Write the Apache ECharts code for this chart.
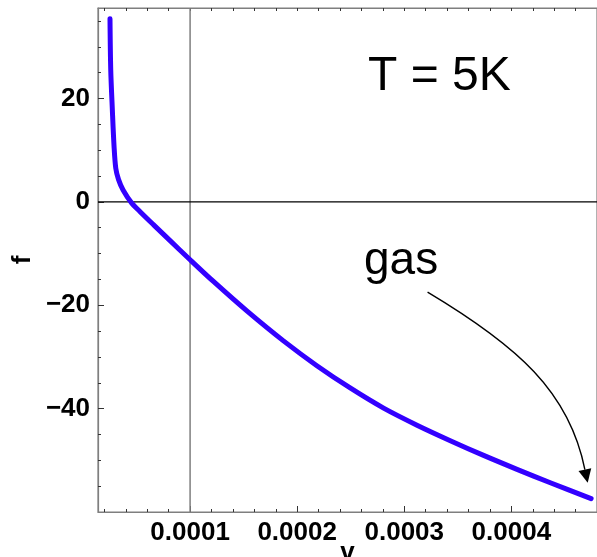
<!DOCTYPE html>
<html>
<head>
<meta charset="utf-8">
<script src="https://cdn.jsdelivr.net/npm/echarts@6/dist/echarts.min.js"></script>
<style>
html,body{margin:0;padding:0;background:#fff;}
#main{width:597px;height:557px;}
</style>
</head>
<body>
<div id="main"></div>
<script>
// ---- data ----
var vValues = [0.0000252, 0.0000259, 0.0000274, 0.0000290, 0.0000306, 0.0000332, 0.0000374, 0.0000455, 0.0000533, 0.0000657, 0.0000813, 0.0001000, 0.0001218, 0.0001530, 0.0001872, 0.0002184, 0.0002495, 0.0002807, 0.0003119, 0.0003430, 0.0003741, 0.0004053, 0.0004364, 0.0004745];
var fValues = [35.4, 25.5, 17.8, 10.7, 6.5, 4.3, 2.3, -0.25, -1.9, -4.4, -7.5, -11.2, -15.4, -21.1, -26.9, -31.7, -36.0, -39.9, -43.2, -46.2, -49.05, -51.75, -54.35, -57.4];

var xTickValues = [0.0001, 0.0002, 0.0003, 0.0004];
var xTickLabels = ['0.0001', '0.0002', '0.0003', '0.0004'];
var xMinorTicks = [0.00002, 0.00004, 0.00006, 0.00008, 0.00012, 0.00014, 0.00016, 0.00018, 0.00022, 0.00024, 0.00026, 0.00028, 0.00032, 0.00034, 0.00036, 0.00038, 0.00042, 0.00044, 0.00046];
var yTickValues = [-40, -20, 0, 20];
var yTickLabels = ['\u221240', '\u221220', '0', '20'];
var yMinorTicks = [-55, -50, -45, -35, -30, -25, -15, -10, -5, 5, 10, 15, 25, 30, 35];

var xRange = [0.000014, 0.00048];
var yRange = [-60, 37.5];
var axesOrigin = [0.0001, 0];

var title = 'T = 5K';
var gasLabel = 'gas';
// arrow: start, two bezier control points, end of shaft (data coordinates), then tip
var arrowPath = [[0.00032178, -17.45], [0.00040561, -27.83], [0.00045421, -36.71], [0.00046869, -51.79]];
var arrowTip = [0.00047131, -54.36];

var seriesData = vValues.map(function (v, i) { return [v, fValues[i]]; });

var FONT = '"Liberation Sans", Arial, Helvetica, sans-serif';
var frameColor = '#7f7f7f';

function labelFor(values, labels) {
  return function (val) {
    for (var i = 0; i < values.length; i++) {
      if (Math.abs(values[i] - val) <= 1e-9 * Math.max(1e-6, Math.abs(values[i]))) return labels[i];
    }
    return '';
  };
}

var chart = echarts.init(document.getElementById('main'), null, {renderer: 'canvas'});
var topTicks = xMinorTicks.concat(xTickValues).sort(function (a, b) { return a - b; });

var option = {
  backgroundColor: '#ffffff',
  animation: false,
  grid: {left: 98, right: 0, top: 8, bottom: 45, containLabel: false, outerBoundsMode: 'none',
    show: true, borderColor: frameColor, borderWidth: 1.2},
  xAxis: [
    {
      type: 'value', min: xRange[0], max: xRange[1], position: 'bottom',
      name: 'v', nameLocation: 'middle', nameGap: 28, nameMoveOverlap: false,
      nameTextStyle: {fontFamily: FONT, fontSize: 26, fontWeight: 'bold', color: '#000', verticalAlign: 'top'},
      axisLine: {show: true, onZero: false, lineStyle: {color: frameColor, width: 1.2}},
      axisTick: {show: true, inside: true, length: 6, customValues: xTickValues, lineStyle: {color: '#333', width: 1}},
      axisLabel: {show: true, customValues: xTickValues, margin: 8, fontFamily: FONT, fontSize: 26, fontWeight: 'bold', color: '#000',
        formatter: labelFor(xTickValues, xTickLabels)},
      splitLine: {show: false}
    },
    {
      type: 'value', min: xRange[0], max: xRange[1], position: 'top',
      axisLine: {show: true, onZero: false, lineStyle: {color: frameColor, width: 1.2}},
      axisTick: {show: true, inside: true, length: 3, customValues: topTicks, lineStyle: {color: '#333', width: 1}},
      axisLabel: {show: false},
      splitLine: {show: false}
    },
    {
      type: 'value', min: xRange[0], max: xRange[1], position: 'bottom',
      axisLine: {show: false, onZero: false},
      axisTick: {show: true, inside: true, length: 3, customValues: xMinorTicks, lineStyle: {color: '#333', width: 1}},
      axisLabel: {show: false},
      splitLine: {show: false}
    }
  ],
  yAxis: [
    {
      type: 'value', min: yRange[0], max: yRange[1], position: 'left',
      name: 'f', nameLocation: 'middle', nameGap: 62, nameRotate: 90, nameMoveOverlap: false,
      nameTextStyle: {fontFamily: FONT, fontSize: 26, fontWeight: 'bold', color: '#000'},
      axisLine: {show: true, onZero: false, lineStyle: {color: frameColor, width: 1.2}},
      axisTick: {show: true, inside: true, length: 6, customValues: yTickValues, lineStyle: {color: '#333', width: 1}},
      axisLabel: {show: true, customValues: yTickValues, margin: 8, fontFamily: FONT, fontSize: 26, fontWeight: 'bold', color: '#000',
        formatter: labelFor(yTickValues, yTickLabels)},
      splitLine: {show: false}
    },
    {
      type: 'value', min: yRange[0], max: yRange[1], position: 'left',
      axisLine: {show: false, onZero: false},
      axisTick: {show: true, inside: true, length: 3, customValues: yMinorTicks, lineStyle: {color: '#333', width: 1}},
      axisLabel: {show: false},
      splitLine: {show: false}
    }
  ],
  series: [
    {
      name: 'vAxisLine', type: 'line', xAxisIndex: 0, yAxisIndex: 0, z: 1, silent: true,
      data: [[axesOrigin[0], yRange[0]], [axesOrigin[0], yRange[1]]],
      symbol: 'none', lineStyle: {color: '#7f7f7f', width: 1.5}
    },
    {
      name: 'hAxisLine', type: 'line', xAxisIndex: 0, yAxisIndex: 0, z: 1, silent: true,
      data: [[xRange[0], axesOrigin[1]], [xRange[1], axesOrigin[1]]],
      symbol: 'none', lineStyle: {color: '#000', width: 1.1}
    },
    {
      name: 'f', type: 'line', data: seriesData, xAxisIndex: 0, yAxisIndex: 0, z: 3,
      showSymbol: false, symbol: 'none', smooth: 0.3,
      lineStyle: {color: '#3300ff', width: 5, cap: 'round', join: 'round'}
    }
  ]
};
chart.setOption(option);

// annotations positioned through the chart's own coordinate conversion
function px(p) { return chart.convertToPixel({gridIndex: 0}, p); }
var a0 = px(arrowPath[0]), a1 = px(arrowPath[1]), a2 = px(arrowPath[2]), a3 = px(arrowPath[3]);
var tip = px(arrowTip);
var dx = tip[0] - a3[0], dy = tip[1] - a3[1];
var len = Math.sqrt(dx * dx + dy * dy) || 1;
var nx = -dy / len, ny = dx / len, hw = 6.5;

chart.setOption({
  graphic: [
    {type: 'text', left: 368, top: 53, z: 10, style: {text: title, fontFamily: FONT, fontSize: 48, fill: '#000'}},
    {type: 'text', left: 364, top: 238, z: 10, style: {text: gasLabel, fontFamily: FONT, fontSize: 46, fill: '#000'}},
    {type: 'bezierCurve', z: 10, silent: true,
      shape: {x1: a0[0], y1: a0[1], cpx1: a1[0], cpy1: a1[1], cpx2: a2[0], cpy2: a2[1], x2: a3[0], y2: a3[1]},
      style: {stroke: '#000', lineWidth: 1.4, fill: null}},
    {type: 'polygon', z: 10, silent: true,
      shape: {points: [[tip[0], tip[1]], [a3[0] + nx * hw, a3[1] + ny * hw], [a3[0] - nx * hw, a3[1] - ny * hw]]},
      style: {fill: '#000', stroke: null}}
  ]
});
</script>
</body>
</html>
